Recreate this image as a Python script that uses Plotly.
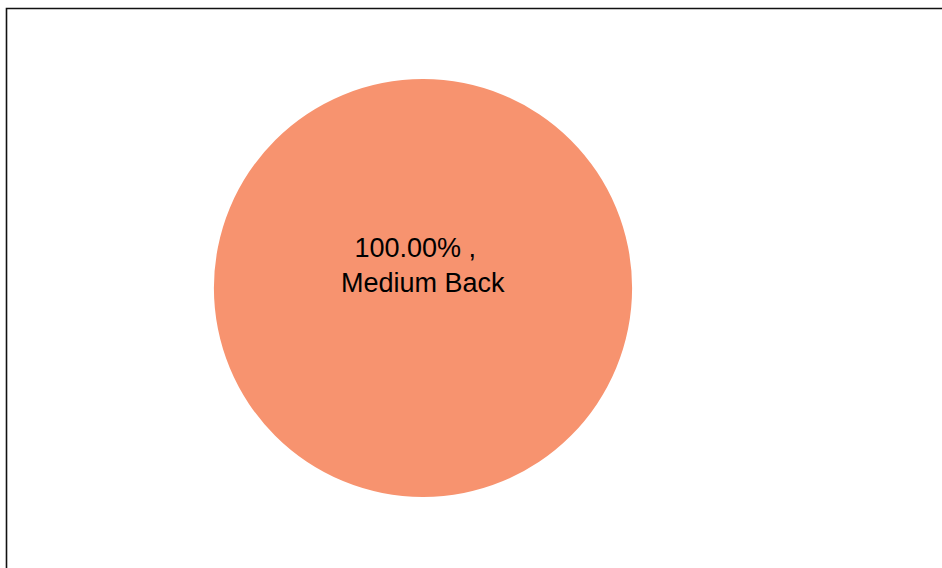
import plotly.graph_objects as go

# Data
labels = ["Medium Back"]
values = [100.0]
colors = ["#F7936F"]

W, H = 942, 568
total = sum(values)
pct = [v / total * 100 for v in values]

fig = go.Figure()
fig.add_trace(go.Pie(
    labels=labels,
    values=values,
    marker=dict(colors=colors, line=dict(width=0)),
    textinfo="none",
    hoverinfo="label+percent",
    sort=False,
    domain=dict(x=[214 / W, 632 / W], y=[1 - 497 / H, 1 - 79 / H]),
    showlegend=False,
))

fig.add_annotation(
    text=f"{pct[0]:.2f}% ,&nbsp;&nbsp;<br>{labels[0]}",
    x=423 / W, y=1 - 266 / H, xref="paper", yref="paper",
    xanchor="center", yanchor="middle", showarrow=False, align="center",
    font=dict(family="Liberation Sans, Arial, sans-serif", size=27, color="#000000"),
)

# Outer frame (top and left edges visible, rest beyond window)
fig.add_shape(type="rect", xref="paper", yref="paper",
              x0=6.5 / W, x1=1.05, y0=-0.05, y1=1 - 8.5 / H,
              line=dict(color="#111111", width=1.6), fillcolor="rgba(0,0,0,0)")

fig.update_layout(
    width=W, height=H,
    margin=dict(l=0, r=0, t=0, b=0),
    paper_bgcolor="white", plot_bgcolor="white",
)

fig.write_html(
    "out.html",
    config={"displayModeBar": False},
    post_script="document.body.style.margin='0';document.body.style.overflow='hidden';",
)
